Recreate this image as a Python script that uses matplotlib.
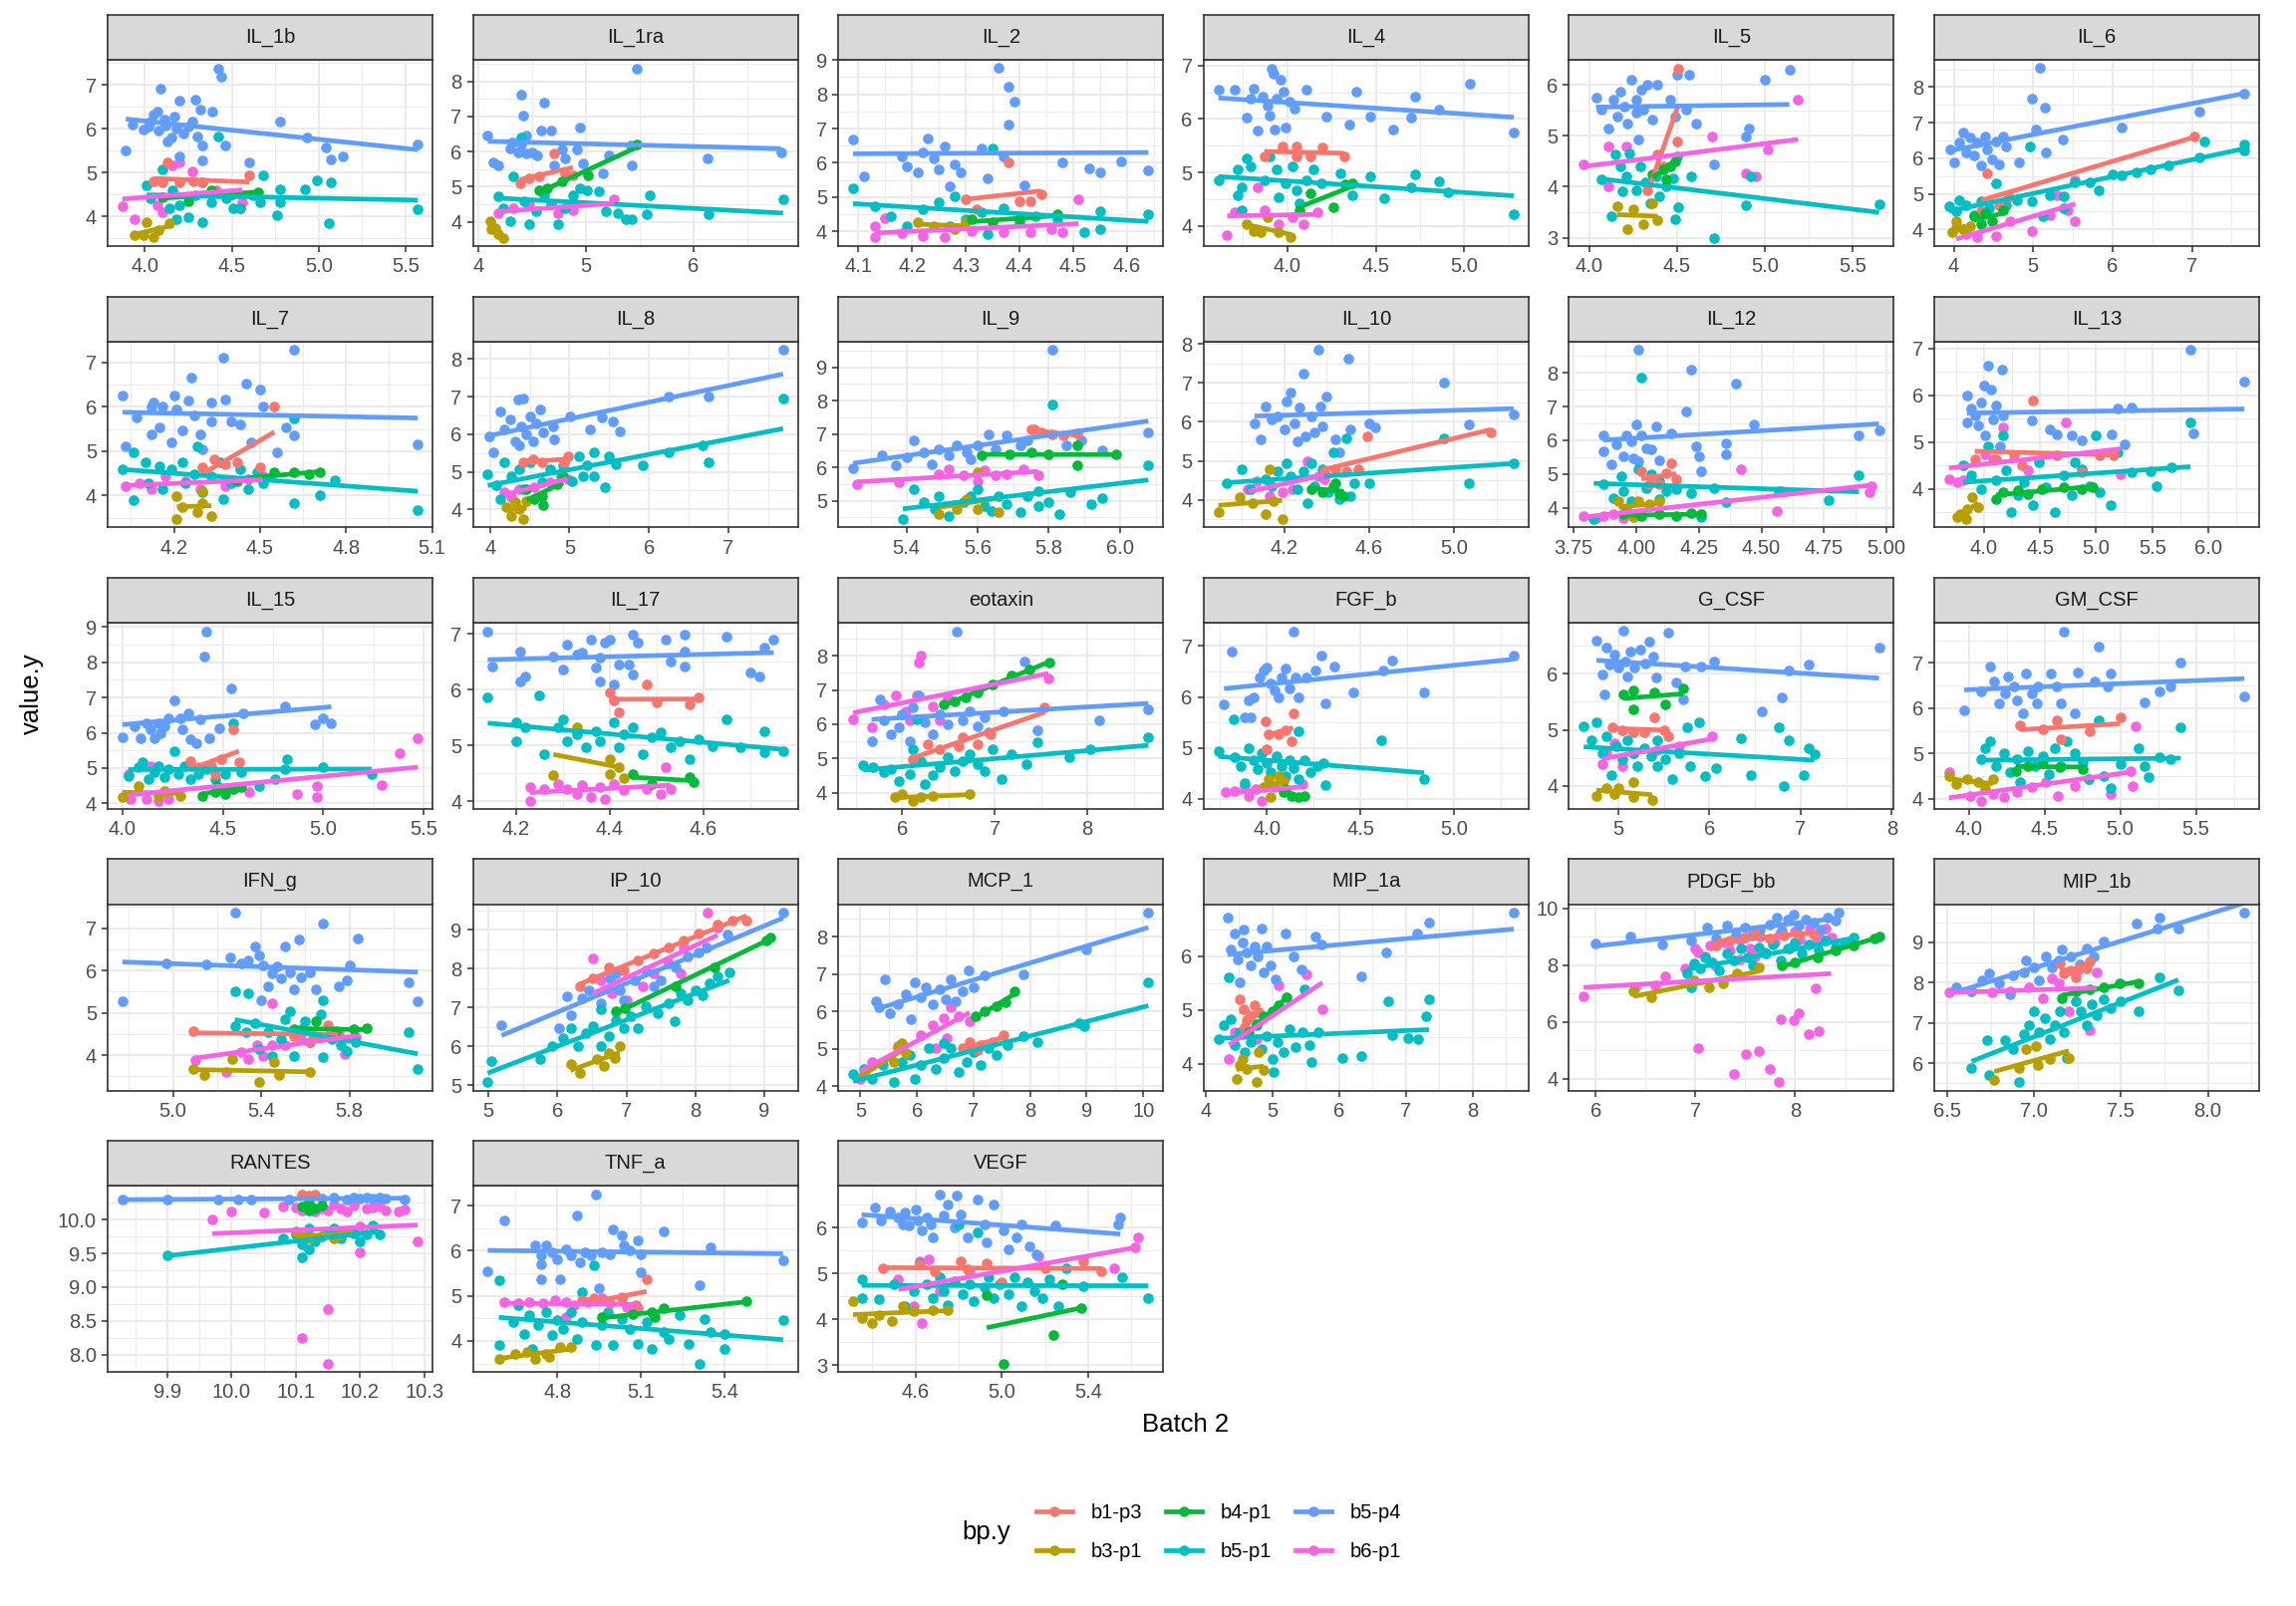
import numpy as np
import matplotlib
matplotlib.use("Agg")
import matplotlib.pyplot as plt
from matplotlib.lines import Line2D

plt.rcParams["font.family"] = ["Liberation Sans", "DejaVu Sans"]

GROUPS = ["b1-p3", "b3-p1", "b4-p1", "b5-p1", "b5-p4", "b6-p1"]
COLORS = ["#F8766D", "#B79F00", "#00BA38", "#00BFC4", "#619CFF", "#F564E3"]
DRAW_ORDER = ["b6-p1", "b5-p4", "b5-p1", "b1-p3", "b3-p1", "b4-p1"]

# ---- per panel (x, y) points ----
IL_1b = {
    "b5-p4": [(3.89,5.50),(3.93,6.10),(3.99,5.98),(4.03,6.17),(4.05,6.32),(4.07,6.40),(4.09,6.92),(4.11,6.21),(4.13,5.72),(4.15,5.80),(4.17,6.29),(4.20,6.65),(4.20,5.38),(4.27,6.17),(4.29,6.66),(4.30,5.83),(4.32,6.44),(4.33,5.61),(4.33,5.27),(4.39,6.40),(4.42,7.38),(4.44,7.19),(4.46,5.61),(4.60,5.23),(4.78,6.17),(4.93,5.80),(5.04,5.57),(5.07,5.31),(5.14,5.38),(5.57,5.65),(4.02,6.05),(4.08,5.95),(4.12,6.08),(4.18,6.00),(4.22,5.90),(4.25,6.05)],
    "b5-p1": [(4.42,5.83),(4.68,4.93),(4.78,4.63),(4.92,4.63),(4.99,4.82),(5.07,4.77),(5.06,3.86),(5.57,4.16),(4.78,4.33),(4.76,4.03),(4.66,4.33),(4.55,4.18),(4.33,3.88),(4.25,3.99),(4.18,3.95),(4.01,4.71),(4.03,4.41),(4.10,5.08),(4.16,4.59),(4.29,4.48),(4.38,4.33),(4.47,4.41),(4.51,4.18),(4.20,4.26),(4.42,4.52),(4.33,4.78),(4.14,4.18),(4.62,4.48)],
    "b1-p3": [(4.13,5.23),(4.05,4.80),(4.10,4.78),(4.20,4.78),(4.28,4.80),(4.33,4.77),(4.41,4.59),(4.60,4.95)],
    "b6-p1": [(3.87,4.23),(3.94,3.95),(4.16,5.16),(4.20,5.23),(4.27,5.02),(4.10,4.11),(4.55,4.18),(4.56,4.33),(4.07,4.26)],
    "b3-p1": [(3.94,3.58),(4.01,3.88),(4.05,3.52),(4.08,3.69),(4.14,3.84),(3.99,3.58)],
    "b4-p1": [(4.10,4.45),(4.25,4.35),(4.38,4.60),(4.50,4.50),(4.65,4.55)],
}
IL_1ra = {
    "b5-p4": [(4.09,6.45),(4.14,5.70),(4.19,5.60),(4.32,6.26),(4.37,5.98),(4.40,7.63),(4.42,7.02),(4.45,6.45),(4.50,5.98),(4.55,5.89),(4.61,7.39),(4.59,6.60),(4.68,6.60),(4.71,5.60),(4.78,6.07),(4.81,5.80),(4.92,6.07),(4.95,6.68),(4.97,5.65),(5.16,5.37),(5.21,5.89),(5.43,5.60),(5.42,6.17),(5.47,8.37),(6.13,5.80),(6.81,5.98),(4.30,6.10),(4.40,6.20),(4.45,5.95)],
    "b5-p1": [(4.19,4.72),(4.23,4.39),(4.40,6.40),(4.33,5.28),(4.30,4.02),(4.47,3.93),(4.54,4.30),(4.61,4.76),(4.74,3.93),(4.81,4.39),(4.88,4.76),(4.95,4.95),(5.01,4.90),(5.12,4.86),(5.19,4.30),(5.30,4.25),(5.37,4.07),(5.43,4.07),(5.59,4.76),(5.57,4.21),(6.14,4.21),(6.83,4.63),(4.43,4.58),(4.68,4.49)],
    "b1-p3": [(4.39,5.09),(4.47,5.23),(4.57,5.28),(4.71,5.96),(4.81,5.37),(4.88,5.33)],
    "b4-p1": [(4.57,4.91),(4.64,4.95),(4.78,5.14),(5.02,5.33),(5.47,6.19)],
    "b6-p1": [(4.19,4.25),(4.33,4.39),(4.47,4.49),(4.74,4.25),(4.88,4.34),(5.26,4.63)],
    "b3-p1": [(4.11,4.02),(4.16,3.83),(4.19,3.64),(4.12,3.79),(4.23,3.55)],
}
IL_2 = {
    "b5-p4": [(4.09,6.68),(4.11,5.61),(4.18,6.19),(4.19,5.90),(4.21,5.71),(4.22,6.29),(4.23,6.72),(4.24,6.14),(4.25,5.81),(4.26,6.48),(4.27,5.32),(4.28,5.95),(4.29,5.71),(4.33,6.43),(4.34,5.56),(4.36,8.76),(4.38,8.23),(4.38,7.11),(4.39,7.79),(4.41,5.34),(4.48,6.00),(4.53,5.85),(4.55,5.73),(4.59,6.05),(4.64,5.79),(4.37,6.19)],
    "b5-p1": [(4.09,5.27),(4.13,4.74),(4.16,4.45),(4.19,4.16),(4.22,4.64),(4.25,4.84),(4.28,5.03),(4.30,4.35),(4.33,4.55),(4.35,6.43),(4.37,4.69),(4.40,4.26),(4.43,4.45),(4.47,4.35),(4.52,3.99),(4.55,4.06),(4.55,4.60),(4.64,4.50),(4.34,3.92),(4.27,4.16)],
    "b1-p3": [(4.30,4.93),(4.38,6.00),(4.40,4.89),(4.42,4.89),(4.44,5.08),(4.32,4.64)],
    "b4-p1": [(4.31,4.35),(4.35,4.26),(4.47,4.50),(4.40,4.35)],
    "b3-p1": [(4.21,4.26),(4.24,4.16),(4.28,4.06),(4.30,4.26)],
    "b6-p1": [(4.13,4.16),(4.13,3.82),(4.15,4.40),(4.18,3.94),(4.22,3.87),(4.26,3.82),(4.31,4.01),(4.37,3.97),(4.42,3.97),(4.48,3.97),(4.51,4.93),(4.46,4.06)],
}
IL_4 = {
    "b5-p4": [(3.61,6.54),(3.70,6.54),(3.77,6.03),(3.81,6.57),(3.83,5.78),(3.86,6.41),(3.89,6.25),(3.90,6.06),(3.91,6.95),(3.92,6.85),(3.93,5.81),(3.94,6.38),(3.96,6.73),(3.98,6.51),(3.99,5.84),(4.01,6.32),(4.04,6.19),(4.11,6.54),(4.22,6.05),(4.35,5.89),(4.39,6.51),(4.47,6.05),(4.60,5.80),(4.70,6.03),(4.72,6.41),(4.86,6.18),(5.03,6.66),(5.28,5.75),(3.79,6.38)],
    "b5-p1": [(3.61,4.86),(3.72,5.05),(3.77,5.27),(3.79,5.11),(3.74,4.73),(3.72,4.58),(3.74,4.29),(3.87,4.86),(3.90,5.30),(3.94,5.05),(3.95,4.54),(3.99,4.80),(4.03,5.11),(4.05,4.67),(4.07,4.42),(4.11,4.86),(4.15,5.05),(4.19,4.80),(4.30,4.99),(4.37,4.58),(4.47,4.92),(4.55,4.51),(4.70,4.73),(4.72,4.96),(4.86,4.83),(4.91,4.62),(5.28,4.22)],
    "b1-p3": [(3.87,5.30),(3.97,5.49),(4.05,5.49),(4.05,5.30),(4.13,5.30),(4.20,5.46),(4.32,5.30)],
    "b4-p1": [(4.07,4.29),(4.13,4.61),(4.26,4.35),(4.33,4.77),(4.37,4.80)],
    "b6-p1": [(3.66,3.82),(3.70,4.26),(3.83,4.73),(3.87,4.29),(3.95,4.04),(4.03,4.16),(4.09,4.04),(4.17,4.26)],
    "b3-p1": [(3.77,4.04),(3.81,3.91),(3.85,3.88),(3.89,4.16),(3.95,3.88),(4.02,3.78)],
}
IL_5 = {
    "b5-p4": [(4.04,5.76),(4.07,5.51),(4.11,5.15),(4.14,5.71),(4.16,5.38),(4.18,5.87),(4.20,5.58),(4.22,5.25),(4.24,6.10),(4.27,5.71),(4.28,4.92),(4.30,5.90),(4.31,5.51),(4.33,6.00),(4.36,5.32),(4.39,6.00),(4.46,5.71),(4.49,5.38),(4.50,6.20),(4.57,6.20),(4.55,5.51),(4.61,5.25),(4.71,4.43),(4.89,4.99),(4.91,5.15),(5.00,6.11),(5.14,6.31),(4.27,5.45)],
    "b5-p1": [(4.07,4.14),(4.13,3.42),(4.15,4.63),(4.18,4.40),(4.21,4.21),(4.23,4.66),(4.27,3.94),(4.29,4.40),(4.32,4.08),(4.35,3.68),(4.38,4.21),(4.40,3.81),(4.44,4.01),(4.48,4.17),(4.49,3.36),(4.50,4.60),(4.51,3.59),(4.58,4.21),(4.71,3.00),(4.89,3.63),(4.92,4.21),(5.65,3.66),(4.19,3.91)],
    "b1-p3": [(4.51,6.33),(4.39,4.63),(4.50,4.89),(4.42,4.40),(4.33,3.94)],
    "b4-p1": [(4.36,4.24),(4.42,4.34),(4.46,4.40),(4.49,4.50),(4.44,4.14)],
    "b3-p1": [(4.16,3.62),(4.22,3.16),(4.25,3.55),(4.31,3.26),(4.36,3.68),(4.39,3.34)],
    "b6-p1": [(3.97,4.43),(4.11,4.79),(4.11,4.01),(4.21,4.79),(4.70,4.99),(4.89,4.27),(4.95,4.21),(5.02,4.74),(5.19,5.72)],
}
IL_6 = {
    "b5-p4": [(3.96,6.25),(4.00,5.87),(4.07,6.44),(4.12,6.71),(4.16,6.16),(4.21,6.57),(4.25,6.07),(4.30,6.44),(4.35,5.79),(4.39,6.62),(4.42,6.25),(4.48,5.98),(4.53,6.48),(4.57,5.84),(4.66,6.34),(4.82,5.87),(4.98,7.68),(5.03,6.80),(5.09,8.53),(5.15,7.43),(5.16,6.16),(5.37,6.53),(6.12,6.85),(7.09,7.31),(7.66,7.82),(4.62,6.62)],
    "b5-p1": [(3.94,4.64),(4.03,4.51),(4.07,4.83),(4.16,4.69),(4.25,4.41),(4.35,4.78),(4.44,4.60),(4.53,5.29),(4.66,4.69),(4.80,4.83),(4.96,6.34),(4.98,4.78),(5.21,4.97),(5.39,4.92),(5.53,5.33),(5.71,5.33),(5.82,5.10),(6.00,5.56),(6.12,5.52),(6.30,5.61),(6.48,5.70),(6.71,5.79),(7.09,6.02),(7.16,6.46),(7.66,6.39),(7.66,6.21),(5.12,4.37),(5.39,4.60)],
    "b1-p3": [(4.35,4.51),(4.42,5.58),(4.57,4.69),(4.70,4.90),(7.03,6.62)],
    "b4-p1": [(4.25,4.37),(4.39,4.46),(4.48,4.23),(4.62,4.55),(4.35,4.14)],
    "b3-p1": [(3.98,3.91),(4.03,4.23),(4.12,4.00),(4.21,4.09)],
    "b6-p1": [(4.03,4.05),(4.16,3.86),(4.30,3.77),(4.53,3.82),(4.71,4.23),(4.98,3.95),(5.21,4.41),(5.53,4.23),(5.53,5.38),(5.30,4.97),(5.44,4.55)],
}
IL_7 = {
    "b5-p4": [(4.02,6.26),(4.03,5.12),(4.07,5.76),(4.12,6.02),(4.13,6.10),(4.12,5.38),(4.15,5.53),(4.16,6.02),(4.19,5.20),(4.20,6.25),(4.21,5.95),(4.23,5.46),(4.25,6.14),(4.26,6.66),(4.27,5.80),(4.29,5.38),(4.30,5.05),(4.33,5.68),(4.33,6.10),(4.37,7.11),(4.38,6.17),(4.40,5.68),(4.43,5.61),(4.45,6.53),(4.47,5.20),(4.50,6.40),(4.51,6.02),(4.56,4.97),(4.59,5.53),(4.62,5.35),(4.62,7.29),(5.05,5.15)],
    "b5-p1": [(4.02,4.59),(4.06,4.97),(4.06,3.90),(4.10,4.74),(4.11,4.29),(4.15,4.67),(4.16,4.14),(4.19,4.59),(4.23,4.74),(4.24,4.29),(4.27,4.48),(4.28,5.12),(4.30,4.07),(4.33,4.44),(4.36,4.74),(4.37,3.92),(4.40,4.29),(4.43,4.59),(4.46,4.14),(4.51,4.29),(4.62,5.74),(4.62,3.84),(4.71,4.00),(4.76,4.35),(5.05,3.68),(4.49,4.52)],
    "b1-p3": [(4.30,4.63),(4.34,4.82),(4.38,4.71),(4.42,4.74),(4.50,4.63),(4.55,6.02)],
    "b4-p1": [(4.55,4.53),(4.62,4.52),(4.67,4.48),(4.71,4.52),(4.42,4.33)],
    "b3-p1": [(4.21,3.99),(4.21,3.47),(4.23,3.73),(4.28,3.63),(4.30,4.11),(4.33,3.54),(4.30,3.84)],
    "b6-p1": [(4.03,4.22),(4.08,4.29),(4.12,4.14),(4.17,4.44),(4.24,4.33),(4.29,4.14),(4.38,4.22),(4.46,4.37),(4.51,4.44)],
}
IL_8 = {
    "b5-p4": [(3.99,5.95),(4.04,5.51),(4.13,6.61),(4.18,6.13),(4.25,6.39),(4.32,5.82),(4.35,6.92),(4.39,6.22),(4.42,6.94),(4.46,6.00),(4.51,6.48),(4.54,5.82),(4.58,6.30),(4.63,6.66),(4.67,6.04),(4.79,6.22),(4.81,5.86),(5.01,6.48),(5.26,6.13),(5.41,6.44),(5.55,6.35),(5.64,6.08),(6.25,7.01),(6.75,7.01),(7.69,8.25),(4.37,5.69)],
    "b5-p1": [(3.97,4.94),(4.08,4.63),(4.18,5.25),(4.27,4.89),(4.37,5.07),(4.42,4.54),(4.51,5.25),(4.65,4.72),(4.75,5.07),(4.89,4.89),(5.03,4.76),(5.12,5.42),(5.22,5.16),(5.31,5.51),(5.31,4.89),(5.45,4.58),(5.50,5.42),(5.59,5.20),(5.92,5.16),(6.25,5.51),(6.68,5.69),(6.75,5.26),(7.69,6.94),(4.92,5.16),(5.17,4.89),(4.13,4.27)],
    "b1-p3": [(4.42,5.25),(4.54,5.33),(4.65,5.25),(4.93,5.25),(4.98,5.42)],
    "b4-p1": [(4.46,4.54),(4.56,4.27),(4.65,4.36),(4.67,4.10),(4.84,4.67),(4.92,4.89)],
    "b3-p1": [(4.20,4.05),(4.27,3.83),(4.37,4.01),(4.42,3.74),(4.46,4.23),(4.32,4.19)],
    "b6-p1": [(4.18,4.45),(4.37,4.54),(4.56,4.58),(4.75,4.72),(4.98,4.80),(4.27,4.32)],
}
IL_9 = {
    "b5-p4": [(5.25,5.98),(5.33,6.35),(5.37,6.05),(5.40,6.30),(5.42,6.80),(5.45,6.45),(5.47,6.10),(5.49,6.55),(5.52,6.35),(5.54,6.65),(5.57,6.45),(5.60,6.65),(5.63,7.00),(5.65,6.55),(5.68,6.95),(5.72,6.65),(5.74,6.80),(5.81,9.53),(5.85,6.65),(5.89,6.80),(5.95,6.50),(6.08,7.05),(5.58,6.25)],
    "b5-p1": [(5.39,4.45),(5.42,5.35),(5.45,4.95),(5.48,4.75),(5.52,4.55),(5.56,4.95),(5.58,5.15),(5.60,5.35),(5.62,4.85),(5.64,4.70),(5.66,5.15),(5.68,4.90),(5.72,4.65),(5.74,5.15),(5.77,5.30),(5.80,4.95),(5.81,7.90),(5.83,4.60),(5.86,5.25),(5.92,4.90),(5.95,5.07),(6.08,6.05),(5.77,4.85),(5.49,5.15)],
    "b1-p3": [(5.76,7.15),(5.78,7.05),(5.81,7.00),(5.84,6.95),(5.88,7.03),(5.75,7.15)],
    "b4-p1": [(5.61,6.35),(5.69,6.40),(5.75,6.45),(5.80,6.40),(5.88,6.65),(5.88,6.05),(5.99,6.40)],
    "b3-p1": [(5.49,4.60),(5.57,5.05),(5.60,5.85),(5.60,4.75),(5.66,4.65),(5.54,4.75)],
    "b6-p1": [(5.26,5.50),(5.38,5.55),(5.49,5.80),(5.52,5.95),(5.56,5.75),(5.60,5.60),(5.62,5.90),(5.65,5.75),(5.68,5.80),(5.73,5.95),(5.77,5.75)],
}
IL_10 = {
    "b5-p4": [(4.06,5.97),(4.09,5.55),(4.11,6.40),(4.14,6.06),(4.17,6.14),(4.20,5.80),(4.21,6.53),(4.23,6.74),(4.25,5.97),(4.27,6.36),(4.29,7.25),(4.30,5.63),(4.33,6.14),(4.34,5.72),(4.36,7.85),(4.37,6.40),(4.38,5.89),(4.40,6.66),(4.44,5.55),(4.46,5.21),(4.50,7.61),(4.51,5.80),(4.60,5.97),(4.63,5.85),(4.95,7.00),(5.07,5.93),(5.28,6.19),(4.26,5.51)],
    "b5-p1": [(3.93,4.44),(4.00,4.78),(4.04,4.27),(4.11,4.53),(4.14,4.36),(4.17,4.74),(4.21,4.95),(4.23,4.61),(4.26,4.27),(4.29,4.74),(4.31,3.93),(4.34,4.36),(4.38,4.78),(4.41,4.19),(4.43,5.21),(4.46,4.02),(4.49,5.59),(4.51,4.10),(4.53,4.44),(4.60,4.44),(4.95,5.59),(5.07,4.44),(5.28,4.95),(4.33,4.95)],
    "b1-p3": [(4.39,4.74),(4.44,4.78),(4.49,4.74),(4.55,4.78),(4.59,5.63),(5.17,5.72)],
    "b4-p1": [(4.33,4.27),(4.38,4.19),(4.43,4.36),(4.46,4.14),(4.48,4.10),(4.44,4.44)],
    "b3-p1": [(3.89,3.68),(3.99,4.06),(4.05,3.93),(4.11,3.63),(4.13,4.78),(4.15,3.98),(4.19,3.51)],
    "b6-p1": [(4.03,4.27),(4.07,4.49),(4.13,4.10),(4.19,4.19),(4.24,4.27),(4.31,5.00),(4.36,4.61),(4.39,4.53)],
}
IL_12 = {
    "b5-p4": [(3.87,6.16),(3.87,5.67),(3.90,5.28),(3.92,5.87),(3.95,5.52),(3.96,6.16),(3.98,5.97),(3.99,5.47),(4.00,6.46),(4.01,8.69),(4.02,6.16),(4.04,5.77),(4.06,5.72),(4.08,6.41),(4.09,5.42),(4.14,6.21),(4.20,6.85),(4.22,8.11),(4.24,5.82),(4.25,5.52),(4.26,5.08),(4.36,5.92),(4.36,5.57),(4.40,7.67),(4.47,6.48),(4.89,6.16),(4.97,6.28),(4.01,5.38)],
    "b5-p1": [(3.83,3.66),(3.87,4.69),(3.91,4.29),(3.94,4.93),(3.95,4.49),(3.98,4.20),(4.01,5.13),(4.02,7.85),(4.04,4.59),(4.06,4.98),(4.09,4.25),(4.12,4.49),(4.16,4.54),(4.22,4.44),(4.26,3.71),(4.31,4.59),(4.36,4.15),(4.57,4.49),(4.77,4.22),(4.89,4.96),(4.09,4.79)],
    "b1-p3": [(4.02,5.08),(4.06,4.88),(4.09,4.69),(4.12,5.03),(4.14,5.33),(4.16,4.84),(4.05,4.69)],
    "b4-p1": [(3.95,3.80),(4.02,3.75),(4.09,3.80),(4.16,3.75),(4.22,3.85),(4.26,3.80)],
    "b3-p1": [(3.93,4.20),(3.96,4.00),(4.01,4.20),(4.05,4.10),(4.09,4.20),(3.99,3.71)],
    "b6-p1": [(3.79,3.75),(3.84,3.70),(3.87,3.75),(3.91,3.80),(3.95,3.70),(4.01,3.80),(4.42,5.13),(4.56,3.90),(4.58,4.49),(4.93,4.47),(4.94,4.64)],
}
IL_13 = {
    "b5-p4": [(3.85,5.99),(3.85,5.42),(3.89,5.71),(3.92,5.56),(3.95,5.35),(3.98,5.85),(4.00,6.20),(4.01,5.14),(4.04,6.62),(4.06,6.13),(4.08,5.49),(4.11,5.78),(4.14,4.92),(4.16,6.55),(4.17,5.56),(4.43,5.46),(4.59,5.28),(4.65,5.17),(4.78,5.14),(4.87,5.03),(5.14,5.17),(5.25,4.96),(5.19,5.71),(5.32,5.74),(5.84,6.97),(5.87,5.19),(6.32,6.29)],
    "b5-p1": [(3.82,4.50),(3.89,4.29),(3.98,4.00),(4.04,4.92),(4.11,4.18),(4.17,5.14),(4.20,4.39),(4.24,3.50),(4.30,3.86),(4.36,4.14),(4.44,3.65),(4.49,4.57),(4.55,4.04),(4.63,3.50),(4.71,4.29),(4.78,3.86),(4.87,4.43),(4.94,4.07),(5.00,5.14),(5.03,3.93),(5.13,3.65),(5.19,4.78),(5.32,4.36),(5.48,4.37),(5.54,4.07),(5.67,4.46),(5.84,5.42),(4.81,4.57)],
    "b1-p3": [(3.92,4.64),(4.11,4.64),(4.27,4.71),(4.34,4.50),(4.44,5.88),(4.65,4.71),(4.87,4.36),(5.03,4.75),(5.16,4.71)],
    "b4-p1": [(4.11,3.79),(4.17,3.93),(4.30,3.97),(4.39,3.89),(4.52,4.00),(4.71,4.04),(4.87,4.00),(4.97,4.04)],
    "b3-p1": [(3.76,3.40),(3.79,3.47),(3.85,3.57),(3.90,3.82),(3.95,3.61),(3.84,3.36)],
    "b6-p1": [(3.69,4.21),(3.76,4.14),(3.82,4.18),(4.01,4.75),(4.08,4.64),(4.17,5.32),(4.39,4.39),(4.73,5.42),(5.03,4.71),(5.22,4.32)],
}
IL_15 = {
    "b5-p4": [(4.00,5.87),(4.06,6.18),(4.09,5.85),(4.12,6.27),(4.14,6.09),(4.16,5.85),(4.18,6.27),(4.19,5.99),(4.21,6.18),(4.23,6.41),(4.26,6.92),(4.29,6.41),(4.30,6.09),(4.33,6.55),(4.34,5.81),(4.37,5.71),(4.39,6.37),(4.42,8.88),(4.41,8.15),(4.43,5.85),(4.48,6.13),(4.54,7.25),(4.60,6.55),(4.81,6.74),(4.96,6.23),(5.00,6.41),(5.04,6.27)],
    "b5-p1": [(4.03,4.78),(4.08,5.02),(4.10,5.16),(4.13,4.69),(4.16,4.88),(4.18,5.06),(4.21,4.74),(4.23,4.97),(4.26,5.48),(4.28,4.83),(4.31,5.06),(4.34,4.69),(4.38,4.83),(4.42,4.97),(4.46,4.69),(4.51,4.83),(4.55,6.27),(4.59,4.88),(4.68,4.50),(4.76,4.69),(4.82,5.25),(4.81,4.97),(5.00,5.02),(5.24,4.83)],
    "b1-p3": [(4.34,5.20),(4.38,5.02),(4.44,5.06),(4.49,5.25),(4.55,6.10),(4.58,5.16),(4.46,4.83)],
    "b4-p1": [(4.40,4.22),(4.46,4.32),(4.51,4.27),(4.55,4.41),(4.59,4.46),(4.47,4.50)],
    "b3-p1": [(4.00,4.18),(4.08,4.50),(4.18,4.22),(4.21,4.36),(4.29,4.22)],
    "b6-p1": [(4.03,4.83),(4.04,4.13),(4.12,4.13),(4.18,4.08),(4.23,4.13),(4.14,5.06),(4.63,4.32),(4.87,4.27),(4.97,4.50),(4.97,4.18),(5.29,4.52),(5.38,5.43),(5.47,5.85)],
}
IL_17 = {
    "b5-p4": [(4.14,7.05),(4.15,6.42),(4.21,6.69),(4.21,6.15),(4.22,6.24),(4.28,6.60),(4.30,6.36),(4.31,6.81),(4.33,6.63),(4.34,6.66),(4.36,6.90),(4.37,6.39),(4.38,6.15),(4.38,6.57),(4.39,6.84),(4.40,6.90),(4.41,6.10),(4.42,6.45),(4.44,6.45),(4.45,6.99),(4.45,6.27),(4.46,6.84),(4.52,6.90),(4.53,6.51),(4.56,6.69),(4.56,6.99),(4.56,6.42),(4.65,6.96),(4.70,6.30),(4.72,6.24),(4.73,6.75),(4.75,6.90)],
    "b5-p1": [(4.14,5.86),(4.20,5.41),(4.20,5.08),(4.22,5.32),(4.25,5.89),(4.26,4.85),(4.29,5.32),(4.30,5.47),(4.31,5.08),(4.33,5.20),(4.35,4.96),(4.37,5.26),(4.38,5.08),(4.41,5.41),(4.42,4.96),(4.43,5.20),(4.45,5.32),(4.47,4.85),(4.49,5.14),(4.51,5.23),(4.53,4.96),(4.55,5.08),(4.57,4.76),(4.59,5.11),(4.62,4.99),(4.65,5.47),(4.68,4.96),(4.73,4.87),(4.73,5.26),(4.77,4.89)],
    "b1-p3": [(4.40,5.95),(4.41,5.80),(4.42,5.59),(4.48,6.10),(4.50,5.77),(4.57,5.74),(4.59,5.86)],
    "b3-p1": [(4.28,4.46),(4.33,5.33),(4.40,4.76),(4.40,4.49),(4.42,4.61),(4.43,4.42)],
    "b4-p1": [(4.45,4.49),(4.49,4.31),(4.57,4.43),(4.58,4.34)],
    "b6-p1": [(4.23,4.25),(4.23,4.01),(4.26,4.22),(4.29,4.31),(4.31,4.22),(4.33,4.13),(4.34,4.28),(4.36,4.07),(4.38,4.25),(4.39,4.04),(4.41,4.31),(4.43,4.19),(4.48,4.22),(4.51,4.13),(4.52,4.61),(4.53,4.22)],
}
eotaxin = {
    "b5-p4": [(5.67,5.51),(5.76,6.73),(5.80,6.10),(5.88,5.71),(5.96,5.90),(6.00,6.29),(6.08,5.51),(6.12,6.49),(6.18,6.84),(6.24,6.05),(6.33,5.71),(6.41,6.29),(6.49,6.00),(6.59,8.72),(6.65,6.10),(6.73,6.39),(6.81,5.95),(6.89,6.19),(6.93,5.76),(7.10,6.39),(7.32,7.84),(7.46,5.81),(8.13,6.10),(8.66,6.44)],
    "b5-p1": [(5.58,4.79),(5.69,4.74),(5.80,4.59),(5.88,4.69),(5.96,4.35),(6.08,4.54),(6.12,5.27),(6.20,4.93),(6.24,4.25),(6.33,4.50),(6.41,4.74),(6.49,5.03),(6.57,4.64),(6.65,4.93),(6.73,5.13),(6.81,4.83),(6.89,4.64),(6.98,5.27),(7.07,4.40),(7.18,5.13),(7.34,4.83),(7.46,5.47),(7.81,5.03),(8.03,5.27),(8.66,5.61),(6.16,6.15)],
    "b1-p3": [(6.12,4.98),(6.28,5.42),(6.41,5.27),(6.61,5.37),(6.81,5.42),(6.96,5.71),(7.54,6.50),(6.65,5.61)],
    "b4-p1": [(6.45,6.58),(6.57,6.68),(6.69,6.78),(6.81,6.92),(6.98,7.17),(7.18,7.41),(7.38,7.60),(7.59,7.80)],
    "b3-p1": [(5.92,3.86),(6.00,3.96),(6.12,3.77),(6.20,3.86),(6.33,3.91),(6.73,3.96)],
    "b6-p1": [(5.47,6.15),(5.67,5.90),(5.80,6.58),(5.93,6.83),(6.04,6.39),(6.16,6.83),(6.20,8.02),(6.18,7.80),(6.33,6.53),(6.49,6.78),(6.08,6.10),(6.41,6.10),(7.58,7.35)],
}
FGF_b = {
    "b5-p4": [(3.77,5.86),(3.81,6.89),(3.90,5.94),(3.91,5.61),(3.93,6.00),(3.96,6.39),(3.98,6.52),(4.00,6.58),(4.02,6.26),(4.04,6.13),(4.06,6.00),(4.08,6.39),(4.10,6.55),(4.12,6.16),(4.14,7.29),(4.15,6.39),(4.17,6.00),(4.21,6.39),(4.26,6.52),(4.29,6.81),(4.31,5.87),(4.36,6.59),(4.46,6.08),(4.62,6.52),(4.67,6.71),(4.84,6.08),(5.32,6.81),(3.88,5.61)],
    "b5-p1": [(3.74,4.94),(3.82,5.56),(3.83,4.81),(3.86,4.65),(3.88,4.32),(3.90,5.00),(3.93,4.77),(3.95,4.58),(3.97,4.90),(4.00,4.71),(4.02,4.52),(4.05,4.84),(4.08,4.65),(4.10,4.45),(4.12,4.77),(4.14,4.61),(4.17,5.32),(4.17,4.39),(4.20,4.77),(4.23,4.52),(4.27,4.65),(4.30,4.70),(4.31,4.27),(4.61,5.15),(4.84,4.39)],
    "b1-p3": [(3.99,5.52),(4.00,4.98),(4.01,5.26),(4.06,5.26),(4.10,5.35),(4.13,5.13),(4.14,5.68)],
    "b4-p1": [(4.09,4.13),(4.13,4.06),(4.17,4.03),(4.20,4.06),(4.10,4.19)],
    "b3-p1": [(4.01,4.39),(4.04,4.26),(4.06,4.45),(4.09,4.35),(4.02,4.03),(3.98,4.23)],
    "b6-p1": [(3.78,4.13),(3.83,4.16),(3.88,4.26),(3.94,4.19),(3.97,3.97),(4.04,4.23),(4.19,4.29),(3.90,4.06)],
}
G_CSF = {
    "b5-p4": [(4.76,6.60),(4.82,5.99),(4.87,6.46),(4.90,6.16),(4.96,6.34),(5.00,6.11),(5.06,6.76),(5.08,6.22),(5.10,5.96),(5.13,6.40),(5.18,6.11),(5.24,6.43),(5.29,6.19),(5.34,6.57),(5.38,6.31),(5.42,5.93),(5.55,6.74),(5.63,5.84),(5.73,6.13),(5.91,6.13),(6.05,6.22),(6.58,5.33),(6.79,5.58),(6.87,6.05),(7.09,6.16),(7.86,6.47),(4.85,5.64),(5.71,5.55)],
    "b5-p1": [(4.62,5.06),(4.71,4.82),(4.76,5.13),(4.82,4.58),(4.87,4.88),(4.92,4.20),(4.98,4.70),(5.04,4.47),(5.10,4.82),(5.16,4.58),(5.21,4.35),(5.28,4.67),(5.36,4.53),(5.43,4.82),(5.51,4.47),(5.59,4.12),(5.67,4.58),(5.75,5.04),(5.79,4.35),(5.89,5.13),(5.95,4.18),(6.07,4.32),(6.34,4.85),(6.45,4.19),(6.76,5.04),(6.81,4.00),(6.87,4.82),(7.03,4.20),(7.09,4.67),(7.15,4.56),(5.43,4.35)],
    "b1-p3": [(4.94,5.05),(5.04,4.99),(5.16,4.96),(5.28,4.96),(5.39,5.23),(5.50,4.99),(5.55,4.88)],
    "b4-p1": [(5.06,5.64),(5.16,5.70),(5.16,5.37),(5.39,5.67),(5.51,5.46),(5.71,5.73)],
    "b3-p1": [(4.76,3.82),(4.87,3.97),(4.96,3.85),(5.00,3.97),(5.16,4.06),(5.16,3.80),(5.37,3.74)],
    "b6-p1": [(4.82,4.38),(4.87,4.58),(4.96,4.76),(5.04,4.35),(5.16,4.58),(5.43,4.64),(5.67,4.70),(6.03,4.88)],
}
GM_CSF = {
    "b5-p4": [(3.97,5.95),(4.08,6.36),(4.14,6.91),(4.17,6.58),(4.20,6.11),(4.24,6.32),(4.26,6.69),(4.30,6.47),(4.32,6.18),(4.36,5.89),(4.38,6.76),(4.42,6.32),(4.45,6.11),(4.46,6.47),(4.54,6.76),(4.58,6.47),(4.61,6.11),(4.63,7.70),(4.70,5.89),(4.72,6.78),(4.83,6.58),(4.86,7.36),(4.92,6.47),(4.94,6.76),(5.16,6.12),(5.26,6.36),(5.33,6.47),(5.40,7.01),(5.82,6.27)],
    "b5-p1": [(4.08,4.87),(4.11,5.12),(4.14,5.27),(4.18,4.73),(4.23,5.01),(4.27,4.58),(4.32,4.87),(4.34,4.36),(4.39,5.05),(4.44,4.73),(4.49,4.94),(4.53,4.55),(4.57,5.12),(4.61,4.73),(4.65,5.27),(4.70,5.01),(4.75,4.80),(4.79,4.44),(4.86,5.74),(4.89,4.51),(4.94,4.23),(5.00,4.77),(5.12,5.12),(5.19,4.47),(5.26,4.91),(5.33,4.87),(5.40,5.58),(5.16,4.73)],
    "b1-p3": [(4.34,5.63),(4.49,5.53),(4.58,5.74),(4.61,5.31),(4.80,5.49),(5.00,5.80)],
    "b4-p1": [(4.31,4.62),(4.39,4.73),(4.49,4.84),(4.60,4.69),(4.75,4.65)],
    "b3-p1": [(3.87,4.51),(3.92,4.33),(3.99,4.44),(4.06,4.36),(4.11,4.22),(4.16,4.44)],
    "b6-p1": [(3.87,4.58),(4.01,4.07),(4.08,3.96),(4.16,4.11),(4.23,4.04),(4.32,4.15),(4.42,4.26),(4.51,4.36),(4.59,4.07),(4.70,4.29),(4.79,4.44),(4.94,4.11),(5.08,4.29),(5.10,5.61),(5.07,4.62)],
}
IFN_g = {
    "b5-p4": [(4.77,5.28),(4.97,6.17),(5.15,6.15),(5.26,6.32),(5.28,7.37),(5.31,6.17),(5.34,6.25),(5.37,6.56),(5.39,6.36),(5.41,6.13),(5.43,5.62),(5.45,5.94),(5.47,6.09),(5.49,5.82),(5.51,6.56),(5.53,5.97),(5.55,5.55),(5.57,6.73),(5.58,5.85),(5.62,5.97),(5.65,5.55),(5.68,7.12),(5.75,5.62),(5.79,5.78),(5.80,6.13),(5.84,6.75),(6.07,5.72),(6.11,5.28),(5.40,5.31)],
    "b5-p1": [(5.28,5.51),(5.28,4.69),(5.33,4.54),(5.34,5.47),(5.37,4.77),(5.39,4.15),(5.43,4.54),(5.45,3.99),(5.49,4.38),(5.51,4.85),(5.53,5.04),(5.55,3.99),(5.58,4.61),(5.60,4.81),(5.62,4.30),(5.64,4.46),(5.67,4.96),(5.68,5.31),(5.68,3.95),(5.72,4.38),(5.76,4.23),(5.79,4.11),(5.83,4.30),(6.07,4.54),(6.11,3.68)],
    "b1-p3": [(5.09,4.58),(5.55,4.45),(5.62,4.30),(5.70,4.72),(5.75,4.55),(5.65,4.42)],
    "b4-p1": [(5.55,4.61),(5.65,4.81),(5.74,4.58),(5.82,4.61),(5.88,4.65),(5.70,4.45)],
    "b3-p1": [(5.09,3.68),(5.14,3.53),(5.27,3.91),(5.39,3.37),(5.46,3.84),(5.48,3.53),(5.62,3.60)],
    "b6-p1": [(5.10,3.88),(5.24,3.60),(5.31,4.07),(5.34,3.91),(5.38,4.23),(5.41,3.99),(5.45,5.24),(5.45,4.23),(5.51,4.23),(5.58,4.38),(5.78,4.03),(5.83,4.42)],
}
IP_10 = {
    "b5-p4": [(5.19,6.55),(6.03,6.47),(6.14,7.28),(6.19,6.81),(6.36,7.23),(6.46,7.45),(6.63,7.11),(6.76,7.74),(6.90,7.45),(6.96,7.19),(7.12,7.70),(7.28,7.96),(7.39,7.53),(7.50,7.70),(7.72,8.04),(7.89,8.30),(8.05,8.42),(8.16,8.55),(8.46,8.87),(9.27,9.44),(6.85,7.87)],
    "b5-p1": [(4.99,5.08),(5.04,5.62),(5.75,5.66),(5.92,6.00),(6.08,6.21),(6.19,6.47),(6.30,6.00),(6.41,6.34),(6.52,6.51),(6.63,6.94),(6.74,6.25),(6.85,6.68),(6.96,6.47),(7.07,6.77),(7.17,6.47),(7.28,7.02),(7.45,6.85),(7.61,7.11),(7.70,6.64),(7.78,7.36),(7.89,7.19),(8.00,7.45),(8.10,7.32),(8.21,7.62),(8.32,7.79),(8.49,7.91),(6.63,6.00)],
    "b1-p3": [(6.32,7.53),(6.52,7.74),(6.74,8.04),(6.96,7.96),(7.17,8.21),(7.39,8.38),(7.61,8.55),(7.83,8.72),(8.05,8.89),(8.32,9.14),(8.54,9.23),(8.74,9.23)],
    "b4-p1": [(6.85,6.89),(6.98,6.98),(9.09,8.80),(9.03,8.72),(7.72,7.53),(8.27,8.04)],
    "b3-p1": [(6.19,5.53),(6.32,5.32),(6.57,5.66),(6.74,5.83),(6.83,5.70),(6.90,6.00),(6.68,5.49)],
    "b6-p1": [(6.52,8.25),(6.63,7.70),(6.79,7.36),(7.01,7.19),(7.23,7.53),(7.39,7.87),(7.61,8.13),(7.78,7.87),(7.83,8.55),(8.18,9.44),(8.32,9.06)],
}
MCP_1 = {
    "b5-p4": [(5.27,6.28),(5.33,6.10),(5.44,6.87),(5.53,5.96),(5.67,6.19),(5.80,6.46),(5.89,5.78),(5.97,6.78),(6.07,6.37),(6.16,6.64),(6.27,6.19),(6.40,6.60),(6.51,6.33),(6.60,6.87),(6.69,6.28),(6.80,6.55),(6.91,7.11),(7.00,6.64),(7.20,6.96),(7.89,7.00),(9.00,7.66),(10.09,8.65)],
    "b5-p1": [(4.87,4.33),(5.07,4.47),(5.20,4.20),(5.40,4.56),(5.60,4.11),(5.73,4.64),(5.87,4.83),(5.97,4.20),(6.07,4.56),(6.20,5.03),(6.33,4.47),(6.47,4.74),(6.60,5.03),(6.73,4.38),(6.87,4.65),(7.00,4.92),(7.13,4.56),(7.27,5.03),(7.40,4.83),(7.60,5.10),(7.89,5.33),(8.13,5.19),(8.87,5.69),(8.96,5.60),(10.09,6.78),(6.47,5.15)],
    "b1-p3": [(6.80,5.01),(6.93,5.19),(7.13,5.10),(7.33,5.19),(7.53,5.37),(7.07,4.97)],
    "b4-p1": [(7.04,5.87),(7.20,6.00),(7.40,6.14),(7.57,6.24),(7.73,6.55)],
    "b3-p1": [(5.07,4.33),(5.67,5.01),(5.73,5.15),(5.80,4.88),(5.60,4.65)],
    "b6-p1": [(5.00,4.20),(5.20,4.65),(5.67,5.06),(6.07,5.37),(6.27,5.64),(6.47,5.83),(6.60,6.10),(6.73,5.87),(6.93,5.74),(6.33,5.01),(6.53,5.29)],
}
MIP_1a = {
    "b5-p4": [(4.33,6.71),(4.37,6.12),(4.44,6.43),(4.48,5.94),(4.55,6.25),(4.57,6.49),(4.62,6.06),(4.68,5.82),(4.73,6.18),(4.78,6.00),(4.84,6.52),(4.87,5.69),(4.91,6.18),(4.98,5.82),(5.05,5.57),(5.19,6.42),(5.32,6.00),(5.43,5.75),(5.64,6.37),(5.73,6.22),(6.34,5.63),(6.71,6.06),(7.17,6.42),(7.35,6.63),(8.62,6.81),(4.51,5.51)],
    "b5-p1": [(4.19,4.46),(4.27,4.71),(4.35,5.60),(4.38,4.83),(4.44,4.34),(4.51,4.58),(4.59,4.22),(4.68,4.40),(4.76,4.71),(4.84,4.28),(4.91,4.52),(5.00,4.09),(5.08,4.40),(5.16,4.22),(5.26,4.65),(5.34,4.31),(5.45,4.58),(5.55,4.34),(5.59,4.03),(5.69,4.58),(6.05,4.10),(6.34,4.14),(6.73,5.17),(6.80,4.54),(7.03,4.47),(7.19,4.46),(7.30,4.89),(7.35,5.19),(5.02,3.85),(5.48,5.38)],
    "b1-p3": [(4.51,5.20),(4.57,5.02),(4.62,4.80),(4.68,4.89),(4.73,5.08),(4.80,4.95),(4.59,4.68)],
    "b4-p1": [(4.65,4.58),(4.76,4.74),(4.87,4.89),(5.00,4.98),(5.10,5.08),(5.21,5.23)],
    "b3-p1": [(4.46,3.72),(4.55,4.09),(4.62,3.91),(4.76,3.66),(4.80,4.22),(4.87,3.88),(4.51,3.97)],
    "b6-p1": [(4.35,4.09),(4.44,4.58),(5.10,5.45),(5.51,5.66),(5.75,5.02),(4.76,4.46)],
}
PDGF_bb = {
    "b5-p4": [(6.00,8.77),(6.35,9.00),(6.67,8.74),(6.96,8.86),(7.12,9.33),(7.21,8.92),(7.32,9.38),(7.41,9.09),(7.50,9.33),(7.57,9.03),(7.65,9.27),(7.75,9.44),(7.82,9.67),(7.87,9.21),(7.93,9.62),(7.99,9.79),(8.04,9.38),(8.11,9.62),(8.18,9.50),(8.25,9.27),(8.32,9.67),(8.40,9.56),(8.43,9.85)],
    "b5-p1": [(6.92,7.70),(6.99,8.05),(7.05,7.87),(7.10,8.28),(7.17,8.10),(7.24,7.81),(7.32,8.40),(7.39,8.16),(7.46,8.57),(7.53,8.28),(7.58,7.99),(7.64,8.63),(7.71,8.40),(7.78,8.74),(7.86,8.16),(7.93,8.57),(8.00,8.80),(8.07,8.40),(8.14,8.74),(8.23,8.51),(8.30,8.86),(8.40,8.63),(8.49,8.80),(8.58,8.98),(6.96,7.23)],
    "b1-p3": [(7.21,8.69),(7.35,8.86),(7.50,8.98),(7.60,9.23),(7.75,8.92),(7.89,9.03),(8.04,9.09),(8.18,9.07)],
    "b4-p1": [(7.87,7.99),(8.00,8.10),(8.22,8.28),(8.40,8.51),(8.58,8.69),(8.79,8.95),(8.84,9.00)],
    "b3-p1": [(6.38,7.06),(6.56,6.88),(6.99,7.47),(7.14,7.23),(7.28,7.35),(7.42,7.70),(7.64,7.93)],
    "b6-p1": [(5.88,6.91),(7.03,8.45),(7.03,5.08),(7.39,4.15),(7.51,4.85),(7.64,4.97),(7.75,4.35),(7.84,3.88),(7.86,6.09),(7.99,6.07),(8.04,6.30),(8.14,5.55),(8.23,5.66),(8.20,7.17),(8.36,8.98),(6.60,7.30),(7.20,8.00),(7.45,8.20),(7.70,8.45),(7.95,8.60),(8.20,8.75),(6.90,7.90),(7.10,8.30),(7.35,8.50),(7.55,8.60),(7.60,8.30),(7.80,8.80),(8.05,8.90),(8.25,8.95),(7.00,8.60),(7.15,8.70),(7.30,8.80),(7.45,8.90),(7.65,9.00),(7.85,9.10),(8.00,9.20),(8.15,9.30),(8.30,9.30),(6.40,7.20),(6.70,7.60)],
}
MIP_1b = {
    "b5-p4": [(6.55,7.88),(6.64,7.79),(6.70,8.05),(6.74,8.22),(6.80,7.97),(6.86,7.71),(6.88,8.18),(6.94,8.26),(6.95,8.56),(7.00,8.39),(7.03,8.05),(7.07,8.65),(7.10,8.39),(7.14,8.56),(7.16,8.82),(7.21,8.65),(7.26,8.44),(7.30,8.86),(7.34,8.65),(7.40,9.03),(7.59,9.46),(7.72,9.61),(7.71,9.35),(7.83,9.35),(8.21,9.74)],
    "b5-p1": [(6.64,5.87),(6.73,6.56),(6.74,5.70),(6.83,6.56),(6.88,6.34),(6.91,5.53),(6.94,6.73),(6.97,6.94),(7.00,7.28),(7.03,6.77),(7.06,7.11),(7.09,6.60),(7.12,6.94),(7.15,7.28),(7.17,6.77),(7.19,6.13),(7.24,7.54),(7.27,7.28),(7.30,6.94),(7.33,7.45),(7.36,7.20),(7.40,7.58),(7.44,7.37),(7.50,7.54),(7.60,7.28),(7.72,8.14),(7.83,7.81)],
    "b1-p3": [(7.15,8.48),(7.17,8.22),(7.21,8.31),(7.26,8.39),(7.30,8.35),(7.32,8.52),(7.24,8.14)],
    "b4-p1": [(7.16,7.62),(7.24,7.79),(7.32,7.84),(7.40,7.88),(7.49,7.98),(7.60,7.97)],
    "b3-p1": [(6.77,5.57),(6.91,5.87),(6.95,6.34),(7.01,6.43),(7.02,5.96),(7.09,6.09),(7.20,6.13)],
    "b6-p1": [(6.51,7.75),(6.64,7.79),(6.76,7.75),(6.86,7.79),(6.97,7.88),(7.05,7.62),(7.14,7.97),(7.20,7.28),(7.32,6.81),(7.36,8.26),(7.25,8.30),(7.30,8.40),(7.10,8.10)],
}
RANTES = {
    "b5-p4": [(9.83,10.30),(9.90,10.30),(9.98,10.30),(10.01,10.30),(10.03,10.30),(10.09,10.30),(10.12,10.33),(10.14,10.31),(10.16,10.33),(10.18,10.30),(10.19,10.33),(10.20,10.31),(10.21,10.33),(10.22,10.31),(10.23,10.33),(10.24,10.31),(10.27,10.30)],
    "b5-p1": [(9.90,9.47),(10.08,9.73),(10.10,9.78),(10.11,9.63),(10.11,9.44),(10.12,9.56),(10.12,9.87),(10.13,9.68),(10.14,9.75),(10.15,9.83),(10.16,9.87),(10.17,9.73),(10.19,9.80),(10.20,9.68),(10.21,9.78),(10.22,9.92),(10.23,9.78)],
    "b1-p3": [(10.11,10.38),(10.12,10.36),(10.13,10.38),(10.12,10.28)],
    "b4-p1": [(10.11,10.19),(10.12,10.24),(10.13,10.16),(10.14,10.21),(10.12,10.14)],
    "b3-p1": [(10.10,9.83),(10.11,9.75),(10.12,9.73),(10.14,9.75),(10.16,9.73),(10.17,9.78),(10.18,9.83)],
    "b6-p1": [(9.97,10.01),(10.11,10.14),(10.14,10.16),(10.15,10.14),(10.17,10.16),(10.19,10.21),(10.21,10.16),(10.24,10.14),(10.15,8.68),(10.11,8.24),(10.15,7.87),(10.20,9.51),(10.29,9.68),(10.20,9.90),(10.05,10.10),(10.10,10.18),(10.13,10.12),(10.18,10.12),(10.22,10.18),(10.26,10.12),(10.00,10.12),(10.08,10.20),(10.16,10.22),(10.23,10.20),(10.27,10.15)],
}
TNF_a = {
    "b5-p4": [(4.55,5.55),(4.61,6.68),(4.72,6.13),(4.74,5.89),(4.74,5.71),(4.74,5.38),(4.76,6.12),(4.78,5.97),(4.80,5.82),(4.81,5.38),(4.83,6.04),(4.85,5.89),(4.87,6.79),(4.88,5.75),(4.90,5.97),(4.92,5.89),(4.94,7.26),(4.95,5.16),(4.96,5.97),(4.99,5.93),(5.00,6.47),(5.03,6.34),(5.04,6.12),(5.06,6.00),(5.09,6.23),(5.10,5.53),(5.10,5.93),(5.18,6.43),(5.31,5.23),(5.35,6.08),(5.61,5.78)],
    "b5-p1": [(4.59,5.34),(4.59,3.90),(4.64,4.42),(4.66,4.79),(4.68,4.16),(4.70,4.57),(4.71,3.83),(4.73,4.35),(4.76,4.64),(4.78,4.13),(4.80,4.46),(4.82,4.27),(4.85,4.64),(4.87,4.05),(4.89,4.42),(4.89,5.08),(4.93,5.67),(4.94,3.90),(4.96,4.35),(4.98,4.64),(5.00,3.90),(5.03,4.49),(5.06,4.27),(5.09,3.94),(5.12,4.42),(5.14,3.83),(5.18,4.20),(5.20,4.05),(5.24,4.57),(5.27,3.94),(5.31,3.50),(5.33,4.49),(5.35,4.20),(5.40,3.83),(5.40,4.16),(5.61,4.46)],
    "b1-p3": [(4.89,4.90),(4.93,4.94),(4.99,4.83),(5.03,4.94),(5.12,5.38),(5.08,4.79)],
    "b4-p1": [(4.96,4.53),(5.07,4.60),(5.14,4.64),(5.18,4.72),(5.48,4.88),(5.15,4.53)],
    "b3-p1": [(4.59,3.61),(4.65,3.72),(4.69,3.76),(4.72,3.61),(4.77,3.65),(4.81,3.87),(4.85,3.87),(4.76,3.70)],
    "b6-p1": [(4.61,4.86),(4.66,4.83),(4.70,4.86),(4.75,4.83),(4.79,4.90),(4.83,4.86),(4.83,4.53),(4.86,4.79),(4.91,4.86),(4.96,4.94),(5.03,4.97),(5.05,4.75),(5.09,4.72)],
}
VEGF = {
    "b5-p4": [(4.35,6.11),(4.41,6.44),(4.44,6.15),(4.48,6.36),(4.52,6.22),(4.54,6.07),(4.55,6.33),(4.57,6.04),(4.60,6.40),(4.61,6.15),(4.63,5.93),(4.65,6.22),(4.67,6.07),(4.68,5.78),(4.71,6.73),(4.73,6.26),(4.75,6.51),(4.78,6.00),(4.79,6.69),(4.81,6.29),(4.84,5.78),(4.89,6.60),(4.92,6.07),(4.93,5.67),(4.96,6.50),(5.01,5.93),(5.03,5.53),(5.07,5.78),(5.09,6.07),(5.13,5.60),(5.16,5.42),(5.25,6.04),(5.55,6.22),(5.54,6.07)],
    "b5-p1": [(4.35,4.87),(4.35,4.47),(4.43,4.44),(4.50,4.76),(4.55,4.28),(4.59,4.61),(4.62,5.23),(4.65,4.76),(4.68,4.47),(4.71,4.91),(4.73,4.61),(4.75,4.32),(4.78,4.83),(4.80,6.07),(4.82,4.54),(4.85,4.76),(4.87,4.39),(4.89,5.89),(4.92,4.69),(4.94,4.91),(4.96,4.47),(4.99,4.76),(5.03,4.54),(5.06,4.91),(5.09,4.28),(5.12,4.80),(5.15,4.61),(5.19,4.47),(5.22,4.87),(5.26,4.28),(5.30,5.12),(5.38,4.72),(5.56,4.91),(5.68,4.47)],
    "b1-p3": [(4.45,5.11),(4.62,5.20),(4.69,5.05),(4.81,5.27),(4.84,5.09),(4.93,5.23),(5.00,4.80),(5.20,5.11),(5.38,5.26),(5.46,5.05)],
    "b4-p1": [(4.93,4.53),(5.01,3.04),(5.24,3.66),(5.28,4.77),(5.37,4.25)],
    "b3-p1": [(4.31,4.39),(4.35,4.03),(4.40,3.92),(4.43,4.10),(4.49,3.96),(4.54,4.28),(4.59,4.18),(4.68,4.21),(4.75,4.21)],
    "b6-p1": [(4.52,4.87),(4.59,4.28),(4.62,5.27),(4.63,3.92),(4.66,5.31),(4.85,5.05),(5.17,5.38),(5.52,5.12),(5.62,5.56),(5.63,5.78),(4.71,4.61)],
}

# panel name, data, x tick labels, y tick labels
PANELS = [
    ("IL_1b", IL_1b, ["4.0", "4.5", "5.0", "5.5"], ["4", "5", "6", "7"]),
    ("IL_1ra", IL_1ra, ["4", "5", "6"], ["4", "5", "6", "7", "8"]),
    ("IL_2", IL_2, ["4.1", "4.2", "4.3", "4.4", "4.5", "4.6"], ["4", "5", "6", "7", "8", "9"]),
    ("IL_4", IL_4, ["4.0", "4.5", "5.0"], ["4", "5", "6", "7"]),
    ("IL_5", IL_5, ["4.0", "4.5", "5.0", "5.5"], ["3", "4", "5", "6"]),
    ("IL_6", IL_6, ["4", "5", "6", "7"], ["4", "5", "6", "7", "8"]),
    ("IL_7", IL_7, ["4.2", "4.5", "4.8", "5.1"], ["4", "5", "6", "7"]),
    ("IL_8", IL_8, ["4", "5", "6", "7"], ["4", "5", "6", "7", "8"]),
    ("IL_9", IL_9, ["5.4", "5.6", "5.8", "6.0"], ["5", "6", "7", "8", "9"]),
    ("IL_10", IL_10, ["4.2", "4.6", "5.0"], ["4", "5", "6", "7", "8"]),
    ("IL_12", IL_12, ["3.75", "4.00", "4.25", "4.50", "4.75", "5.00"], ["4", "5", "6", "7", "8"]),
    ("IL_13", IL_13, ["4.0", "4.5", "5.0", "5.5", "6.0"], ["4", "5", "6", "7"]),
    ("IL_15", IL_15, ["4.0", "4.5", "5.0", "5.5"], ["4", "5", "6", "7", "8", "9"]),
    ("IL_17", IL_17, ["4.2", "4.4", "4.6"], ["4", "5", "6", "7"]),
    ("eotaxin", eotaxin, ["6", "7", "8"], ["4", "5", "6", "7", "8"]),
    ("FGF_b", FGF_b, ["4.0", "4.5", "5.0"], ["4", "5", "6", "7"]),
    ("G_CSF", G_CSF, ["5", "6", "7", "8"], ["4", "5", "6"]),
    ("GM_CSF", GM_CSF, ["4.0", "4.5", "5.0", "5.5"], ["4", "5", "6", "7"]),
    ("IFN_g", IFN_g, ["5.0", "5.4", "5.8"], ["4", "5", "6", "7"]),
    ("IP_10", IP_10, ["5", "6", "7", "8", "9"], ["5", "6", "7", "8", "9"]),
    ("MCP_1", MCP_1, ["5", "6", "7", "8", "9", "10"], ["4", "5", "6", "7", "8"]),
    ("MIP_1a", MIP_1a, ["4", "5", "6", "7", "8"], ["4", "5", "6"]),
    ("PDGF_bb", PDGF_bb, ["6", "7", "8"], ["4", "6", "8", "10"]),
    ("MIP_1b", MIP_1b, ["6.5", "7.0", "7.5", "8.0"], ["6", "7", "8", "9", "10"]),
    ("RANTES", RANTES, ["9.9", "10.0", "10.1", "10.2", "10.3"], ["8.0", "8.5", "9.0", "9.5", "10.0"]),
    ("TNF_a", TNF_a, ["4.8", "5.1", "5.4"], ["4", "5", "6", "7"]),
    ("VEGF", VEGF, ["4.6", "5.0", "5.4"], ["3", "4", "5", "6"]),
]

FIG_W, FIG_H = 2304, 1612
GRID = "#EBEBEB"
DARK = "#333333"


def px_box(left, top, w, h):
    return [left / FIG_W, 1 - (top + h) / FIG_H, w / FIG_W, h / FIG_H]


def limits(vals):
    lo, hi = float(np.min(vals)), float(np.max(vals))
    pad = 0.05 * (hi - lo)
    return lo - pad, hi + pad


def set_axis(ax, axis, labels, lim):
    pos = [float(t) for t in labels]
    keep = [(p, t) for p, t in zip(pos, labels) if lim[0] <= p <= lim[1]]
    step = pos[1] - pos[0]
    minors = np.arange(pos[0] - step / 2, pos[-1] + step, step)
    minors = [m for m in minors if lim[0] <= m <= lim[1]]
    if axis == "x":
        ax.set_xlim(*lim)
        ax.set_xticks([p for p, _ in keep], [t for _, t in keep])
        ax.set_xticks(minors, minor=True)
    else:
        ax.set_ylim(*lim)
        ax.set_yticks([p for p, _ in keep], [t for _, t in keep])
        ax.set_yticks(minors, minor=True)


fig = plt.figure(figsize=(FIG_W / 100, FIG_H / 100), dpi=100)
fig.patch.set_facecolor("white")

for i, (name, data, xt, yt) in enumerate(PANELS):
    r, c = divmod(i, 6)
    left = 108 + 366.6 * c
    top = 15 + 282.5 * r
    ax = fig.add_axes(px_box(left, top + 45, 326, 187))
    sax = fig.add_axes(px_box(left, top, 326, 45))

    # strip
    sax.set_facecolor("#D9D9D9")
    sax.set_xticks([])
    sax.set_yticks([])
    for sp in sax.spines.values():
        sp.set_color(DARK)
        sp.set_linewidth(1.2)
    sax.text(0.5, 0.5, name, ha="center", va="center", fontsize=14.5,
             color="#1A1A1A", transform=sax.transAxes)

    pts = {g: np.array(data[g]) for g in GROUPS}
    allx = np.concatenate([pts[g][:, 0] for g in GROUPS])
    ally = np.concatenate([pts[g][:, 1] for g in GROUPS])

    for g in DRAW_ORDER:
        col = COLORS[GROUPS.index(g)]
        ax.scatter(pts[g][:, 0], pts[g][:, 1], s=58, color=col,
                   linewidths=0, zorder=2)

    # lm fit per group, over the group's x range
    for g, col in zip(GROUPS, COLORS):
        x, y = pts[g][:, 0], pts[g][:, 1]
        slope, icpt = np.polyfit(x, y, 1)
        xs = np.array([x.min(), x.max()])
        ax.plot(xs, slope * xs + icpt, color=col, lw=3.4, zorder=3,
                solid_capstyle="butt")

    set_axis(ax, "x", xt, limits(allx))
    set_axis(ax, "y", yt, limits(ally))

    ax.set_axisbelow(True)
    ax.grid(which="major", color=GRID, lw=1.5)
    ax.grid(which="minor", color=GRID, lw=0.75)
    ax.tick_params(which="major", length=4.5, width=1.1, color=DARK,
                   labelsize=14.5, labelcolor="#4D4D4D", pad=3.5)
    ax.tick_params(which="minor", length=0)
    for sp in ax.spines.values():
        sp.set_color(DARK)
        sp.set_linewidth(1.2)

fig.text(1190 / FIG_W, 1 - 1430 / FIG_H, "Batch 2", ha="center", va="center",
         fontsize=18.5)
fig.text(32 / FIG_W, 1 - 696 / FIG_H, "value.y", ha="center", va="center",
         rotation=90, fontsize=18.5)

handles = [Line2D([], [], color=c, lw=3.4, marker="o", markersize=7.5,
                  markeredgewidth=0) for c in COLORS]
fig.legend(handles, GROUPS, ncol=3, loc="center left",
           bbox_to_anchor=(1040 / FIG_W, 1 - 1538 / FIG_H), frameon=False,
           fontsize=14.5, handlelength=1.8, handletextpad=0.9,
           columnspacing=1.2, labelspacing=1.0, borderpad=0, borderaxespad=0)
fig.text(965 / FIG_W, 1 - 1538 / FIG_H, "bp.y", ha="left", va="center",
         fontsize=18.5)

fig.savefig("out.png", dpi=100, facecolor="white")
